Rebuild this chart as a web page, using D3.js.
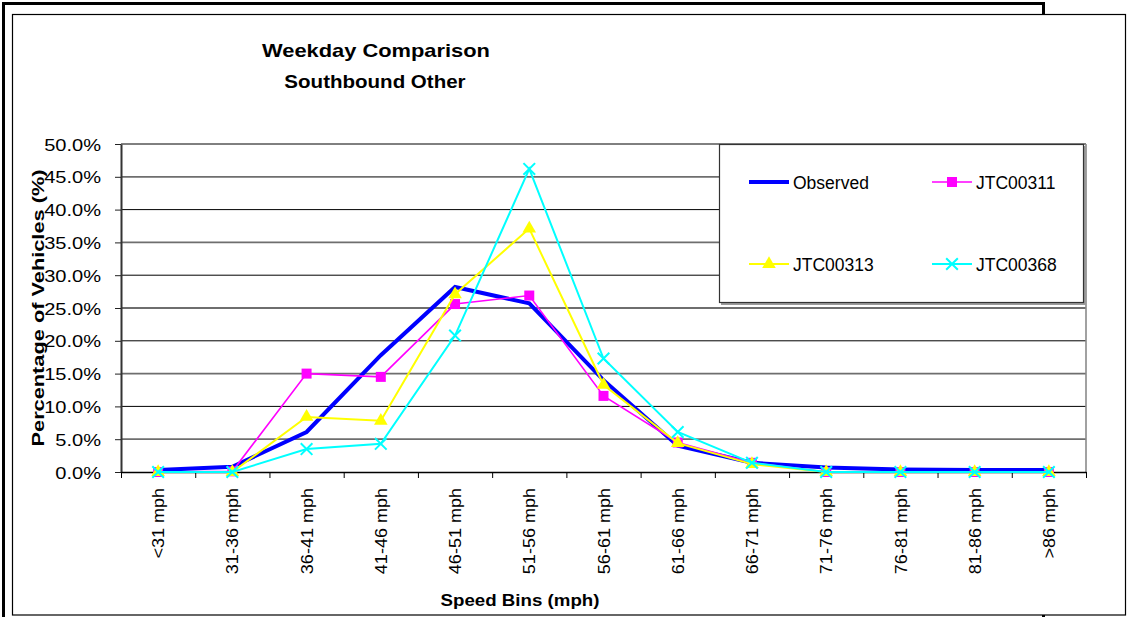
<!DOCTYPE html>
<html>
<head>
<meta charset="utf-8">
<script src="https://cdn.jsdelivr.net/npm/d3@7"></script>
<style>
    body { margin: 0; background: #fff; }
    text { font-family: "Liberation Sans", Arial, sans-serif; fill: #000; }
</style>
</head>
<body>
<div id="chart"></div>
<script>
const categories = ['<31 mph', '31-36 mph', '36-41 mph', '41-46 mph', '46-51 mph', '51-56 mph', '56-61 mph',
    '61-66 mph', '66-71 mph', '71-76 mph', '76-81 mph', '81-86 mph', '>86 mph']

const observed = [0.3, 0.8, 6.1, 17.8, 28.2, 25.7, 14.0, 4.0, 1.4, 0.7, 0.4, 0.3, 0.3]
const jtc00311 = [0.0, 0.1, 15.0, 14.5, 25.6, 26.9, 11.6, 4.5, 1.4, 0.0, 0.0, 0.0, 0.0]
const jtc00313 = [0.0, 0.0, 8.4, 7.8, 27.1, 37.1, 13.3, 4.4, 1.2, 0.0, 0.0, 0.0, 0.0]
const jtc00368 = [0.0, 0.0, 3.5, 4.3, 20.8, 46.2, 17.3, 6.1, 1.4, 0.0, 0.0, 0.0, 0.0]

const yTicks = [0, 5, 10, 15, 20, 25, 30, 35, 40, 45, 50]

const seriesNames = ['Observed', 'JTC00311', 'JTC00313', 'JTC00368']
const seriesValues = [observed, jtc00311, jtc00313, jtc00368]

const styles = {
    'Observed': {color: '#0000ff', width: 4, marker: null},
    'JTC00311': {color: '#ff00ff', width: 1.6, marker: 'square'},
    'JTC00313': {color: '#ffff00', width: 2, marker: 'triangle'},
    'JTC00368': {color: '#00ffff', width: 2, marker: 'cross'}
}

const width = 1147, height = 617
const plot = {left: 121, right: 1086, top: 144, bottom: 472}

// stretch text horizontally like the original picture
function stretch(sel, k) {
    sel.each(function() {
        const len = this.getComputedTextLength()
        d3.select(this).attr('textLength', len * k).attr('lengthAdjust', 'spacingAndGlyphs')
    })
}

const svg = d3.select('#chart').append('svg')
    .attr('width', width)
    .attr('height', height)

// frame with offset shadow
svg.append('rect')
    .attr('x', 3.5).attr('y', 3.5)
    .attr('width', 1040).attr('height', 660)
    .attr('fill', 'none').attr('stroke', '#000').attr('stroke-width', 3)

svg.append('rect')
    .attr('x', 12.5).attr('y', 14.5)
    .attr('width', 1113).attr('height', 600.5)
    .attr('fill', '#fff').attr('stroke', '#000').attr('stroke-width', 1.2)

const x = d3.scaleBand().domain(categories).range([plot.left, plot.right])
const xEdge = d3.scaleLinear().domain([0, categories.length]).range([plot.left, plot.right])
const y = d3.scaleLinear().domain([0, 50]).range([plot.bottom, plot.top])

// gridlines
svg.append('g')
    .selectAll('line')
    .data(yTicks.filter(d => d > 0))
    .enter()
        .append('line')
        .attr('x1', plot.left).attr('x2', plot.right)
        .attr('y1', d => y(d)).attr('y2', d => y(d))
        .attr('stroke', d => d % 10 == 0 ? '#000' : '#6e6e6e')
        .attr('stroke-width', d => d % 10 == 0 ? 1 : 1.8)

// right border of plot area
svg.append('line')
    .attr('x1', plot.right).attr('x2', plot.right)
    .attr('y1', plot.top).attr('y2', plot.bottom)
    .attr('stroke', '#8a8a8a').attr('stroke-width', 1.6)

// y axis
const yAxis = svg.append('g')
    .attr('transform', `translate(${plot.left},0)`)
    .call(d3.axisLeft(y).tickValues(yTicks).tickFormat(d => d.toFixed(1) + '%').tickSize(6).tickSizeOuter(0))

yAxis.select('.domain').attr('stroke', '#333').attr('stroke-width', 2)
yAxis.selectAll('.tick line').attr('stroke', '#222')
yAxis.selectAll('.tick text')
    .attr('x', -20)
    .attr('dy', '0.36em')
    .style('font-size', '17px')
    .call(stretch, 1.18)

// x axis: labels centred, ticks on category edges
const xAxis = svg.append('g')
    .attr('transform', `translate(0,${plot.bottom})`)
    .call(d3.axisBottom(x).tickSize(0).tickSizeOuter(0))

xAxis.select('.domain').attr('stroke', '#000').attr('stroke-width', 1.5)
xAxis.selectAll('.tick text')
    .attr('transform', 'rotate(-90)')
    .attr('text-anchor', 'end')
    .attr('x', -16)
    .attr('y', 0)
    .attr('dy', '0.36em')
    .style('font-size', '17px')
    .call(stretch, 1.06)

svg.append('g')
    .attr('transform', `translate(0,${plot.bottom})`)
    .call(d3.axisBottom(xEdge).tickValues(d3.range(categories.length + 1)).tickFormat('').tickSize(6).tickSizeOuter(0))
    .call(g => g.select('.domain').remove())
    .selectAll('.tick line').attr('stroke', '#000')

// series
const line = d3.line()
    .x((d, i) => x(categories[i]) + x.bandwidth() / 2)
    .y(d => y(d))

const symbols = {
    square: d3.symbol().type(d3.symbolSquare).size(100),
    triangle: d3.symbol().type(d3.symbolTriangle).size(80),
    cross: d3.symbol().type(d3.symbolX).size(90)
}

seriesNames.forEach((name, k) => {
    const st = styles[name]
    const vals = seriesValues[k]
    const g = svg.append('g').attr('class', 'series')

    g.append('path')
        .datum(vals)
        .attr('d', line)
        .attr('fill', 'none')
        .attr('stroke', st.color)
        .attr('stroke-width', st.width)
        .attr('stroke-linejoin', 'miter')

    if (st.marker) {
        g.selectAll('path.marker')
            .data(vals)
            .enter()
                .append('path')
                .classed('marker', true)
                .attr('transform', (d, i) => `translate(${x(categories[i]) + x.bandwidth() / 2},${y(d)})`)
                .attr('d', symbols[st.marker])
                .attr('fill', st.marker == 'cross' ? 'none' : st.color)
                .attr('stroke', st.color)
                .attr('stroke-width', st.marker == 'cross' ? 2 : 0)
    }
})

// title
svg.append('text')
    .attr('x', 376).attr('y', 57)
    .attr('text-anchor', 'middle')
    .style('font-size', '19px').style('font-weight', 'bold')
    .text('Weekday Comparison')
    .call(stretch, 1.15)

svg.append('text')
    .attr('x', 375).attr('y', 88)
    .attr('text-anchor', 'middle')
    .style('font-size', '19px').style('font-weight', 'bold')
    .text('Southbound Other')
    .call(stretch, 1.08)

// axis titles
svg.append('text')
    .attr('x', 520).attr('y', 606)
    .attr('text-anchor', 'middle')
    .style('font-size', '17px').style('font-weight', 'bold')
    .text('Speed Bins (mph)')
    .call(stretch, 1.1)

svg.append('text')
    .attr('transform', 'translate(44,308) rotate(-90)')
    .attr('text-anchor', 'middle')
    .style('font-size', '17px').style('font-weight', 'bold')
    .text('Percentage of Vehicles (%)')
    .call(stretch, 1.28)

// legend
const legend = svg.append('g')
legend.append('rect')
    .attr('x', 721).attr('y', 146).attr('width', 365).attr('height', 159)
    .attr('fill', '#9a9a9a')
legend.append('rect')
    .attr('x', 719.5).attr('y', 144.5).attr('width', 364).attr('height', 158)
    .attr('fill', '#fff').attr('stroke', '#333').attr('stroke-width', 1.2)

const legendPos = [[749, 182], [932, 182], [749, 264], [932, 264]]

seriesNames.forEach((name, k) => {
    const st = styles[name]
    const [lx, ly] = legendPos[k]
    const item = legend.append('g').attr('transform', `translate(${lx},${ly})`)

    item.append('line')
        .attr('x1', 0).attr('x2', 40)
        .attr('stroke', st.color)
        .attr('stroke-width', st.width)

    if (st.marker) {
        item.append('path')
            .attr('transform', 'translate(20,0)')
            .attr('d', symbols[st.marker])
            .attr('fill', st.marker == 'cross' ? 'none' : st.color)
            .attr('stroke', st.color)
            .attr('stroke-width', st.marker == 'cross' ? 2 : 0)
    }

    item.append('text')
        .attr('x', 44).attr('y', 6.5)
        .style('font-size', '17.5px')
        .text(name)
})
</script>
</body>
</html>
